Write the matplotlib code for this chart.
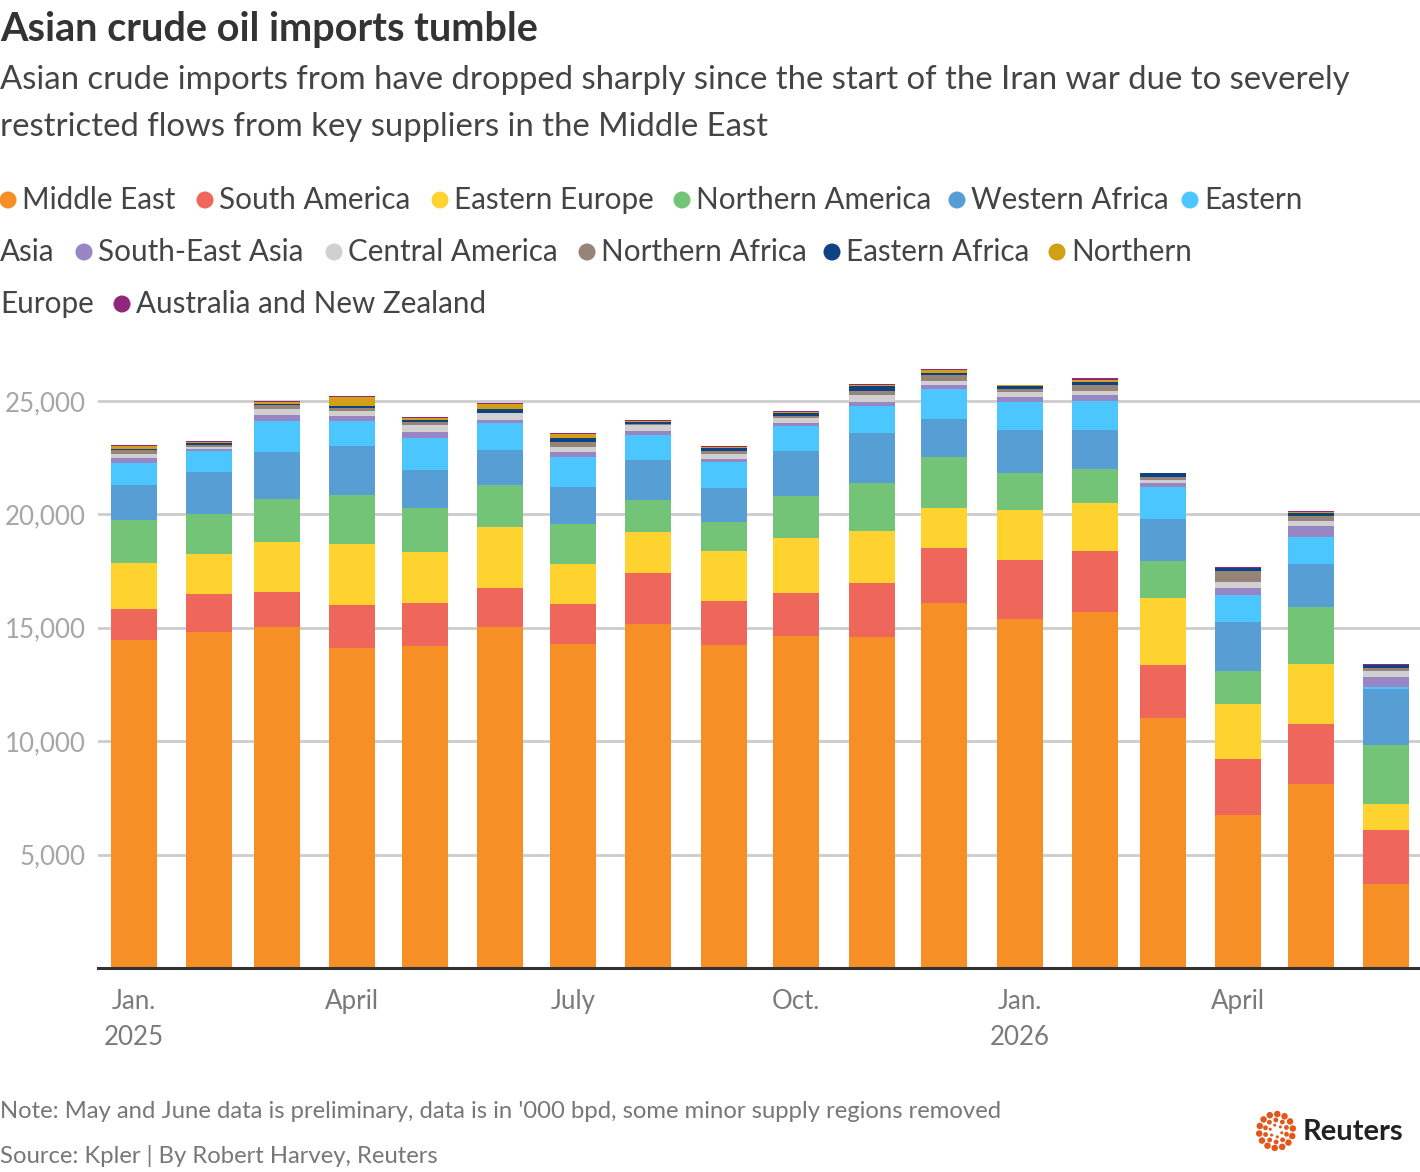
import numpy as np
import pandas as pd
import matplotlib
matplotlib.use("Agg")
import matplotlib.pyplot as plt

plt.rcParams['font.family'] = ['Lato', 'DejaVu Sans']

# monthly crude imports by supply region, '000 bpd
months = pd.date_range("2025-01-01", periods=18, freq="MS")

middle_east = [14460, 14810, 15040, 14110, 14200, 15040, 14290, 15170, 14240,
               14640, 14590, 16090, 15390, 15700, 11020, 6750, 8110, 3700]
south_america = [1370, 1680, 1540, 1890, 1890, 1710, 1760, 2250, 1940,
                 1890, 2390, 2430, 2600, 2690, 2340, 2470, 2650, 2380]
eastern_europe = [2030, 1760, 2200, 2690, 2250, 2690, 1760, 1800, 2210,
                  2430, 2290, 1760, 2200, 2110, 2950, 2420, 2640, 1150]
northern_america = [1890, 1770, 1900, 2170, 1940, 1860, 1770, 1410, 1280,
                    1850, 2110, 2250, 1640, 1500, 1640, 1460, 2520, 2600]
western_africa = [1550, 1850, 2070, 2160, 1680, 1540, 1630, 1770, 1490,
                  1990, 2210, 1680, 1890, 1720, 1850, 2160, 1890, 2470]
eastern_asia = [970, 930, 1370, 1100, 1410, 1190, 1320, 1100, 1150,
                1100, 1190, 1320, 1240, 1280, 1410, 1190, 1190, 90]
south_east_asia = [220, 100, 260, 220, 260, 130, 220, 180, 130,
                   130, 180, 180, 220, 260, 170, 300, 490, 440]
central_america = [170, 80, 270, 220, 310, 310, 220, 260, 220,
                   220, 300, 170, 220, 180, 140, 270, 220, 270]
northern_africa = [190, 80, 170, 130, 130, 0, 220, 50, 140,
                   90, 180, 270, 130, 270, 130, 480, 220, 130]
eastern_africa = [50, 90, 40, 90, 90, 180, 180, 80, 130,
                  130, 220, 80, 130, 130, 180, 140, 130, 130]
northern_europe = [130, 40, 100, 400, 90, 220, 180, 30, 40,
                   40, 50, 140, 30, 90, 0, 0, 40, 20]
australia_nz = [40, 50, 40, 40, 40, 40, 20, 60, 50,
                50, 40, 40, 20, 80, 0, 40, 50, 20]

regions = ["Middle East", "South America", "Eastern Europe", "Northern America",
           "Western Africa", "Eastern Asia", "South-East Asia", "Central America",
           "Northern Africa", "Eastern Africa", "Northern Europe",
           "Australia and New Zealand"]
series = [middle_east, south_america, eastern_europe, northern_america,
          western_africa, eastern_asia, south_east_asia, central_america,
          northern_africa, eastern_africa, northern_europe, australia_nz]
colors = ["#F58F26", "#EF665A", "#FFD32F", "#73C476", "#579ED4", "#4CC6FF",
          "#9786C3", "#D0D0D0", "#978377", "#0D4283", "#D1A017", "#93267A"]

tick_dates = pd.to_datetime(["2025-01-01", "2025-04-01", "2025-07-01",
                             "2025-10-01", "2026-01-01", "2026-04-01"])
tick_labels = ["Jan.\n2025", "April", "July", "Oct.", "Jan.\n2026", "April"]

W, H = 1420, 1172
fig = plt.figure(figsize=(W / 100, H / 100), dpi=100)

# main chart
ax = fig.add_axes([98 / W, 1 - 968 / H, 1 - 98 / W, (968 - 355.6) / H])
bottom = np.zeros(len(months))
for vals, col in zip(series, colors):
    ax.bar(months, vals, width=19, bottom=bottom, color=col, zorder=3)
    bottom += np.array(vals)

ax.set_ylim(0, 27000)
ax.set_xlim(months[0] - pd.Timedelta(days=14.8), months[0] + pd.Timedelta(days=530))
ax.set_yticks([5000, 10000, 15000, 20000, 25000])
ax.set_yticklabels([f"{v:,}" for v in [5000, 10000, 15000, 20000, 25000]])
ax.yaxis.grid(True, color="#cccccc", linewidth=2, zorder=0)
ax.tick_params(axis="y", length=0, pad=9, labelsize=18.6, labelcolor="#a6a6a6")
ax.set_xticks(tick_dates)
ax.set_xticklabels(tick_labels, linespacing=1.55)
ax.tick_params(axis="x", length=0, pad=15, labelsize=18.6, labelcolor="#7a7a7a")
for s in ["top", "right", "left"]:
    ax.spines[s].set_visible(False)
ax.spines["bottom"].set_color("#333333")
ax.spines["bottom"].set_linewidth(2.2)
ax.spines["bottom"].set_zorder(5)

# overlay in pixel coordinates for titles, legend and footer
ov = fig.add_axes([0, 0, 1, 1], facecolor="none")
ov.set_xlim(0, W)
ov.set_ylim(H, 0)
ov.axis("off")

ov.text(0, 30, "Asian crude oil imports tumble", fontsize=28.5, fontweight="bold",
        color="#333333", va="center", ha="left")
ov.text(0, 80, "Asian crude imports from have dropped sharply since the start of the Iran war due to severely",
        fontsize=23.7, color="#444444", va="center", ha="left")
ov.text(0, 127, "restricted flows from key suppliers in the Middle East",
        fontsize=23.7, color="#444444", va="center", ha="left")

# legend wraps like the original
legend_items = [
    (8, 200, 0), (205, 200, 1), (440, 200, 2), (682, 200, 3), (957, 200, 4),
    (1190, 200, 5), (84, 252, 6), (334, 252, 7), (587, 252, 8), (832, 252, 9),
    (1057, 252, 10), (122, 304, 11),
]
legend_text = ["Middle East", "South America", "Eastern Europe", "Northern America",
               "Western Africa", "Eastern", "South-East Asia", "Central America",
               "Northern Africa", "Eastern Africa", "Northern",
               "Australia and New Zealand"]
for (x, y, i), lab in zip(legend_items, legend_text):
    ov.scatter([x], [y], s=150, color=colors[i], edgecolors="none")
    ov.text(x + 14, y, lab, fontsize=21.3, color="#444444", va="center", ha="left")
ov.text(0, 252, "Asia", fontsize=21.3, color="#444444", va="center", ha="left")
ov.text(0, 304, "Europe", fontsize=21.3, color="#444444", va="center", ha="left")

ov.text(0, 1112, "Note: May and June data is preliminary, data is in '000 bpd, some minor supply regions removed",
        fontsize=17.2, color="#777777", va="center", ha="left")
ov.text(0, 1156, "Source: Kpler | By Robert Harvey, Reuters",
        fontsize=17.2, color="#777777", va="center", ha="left")

# Reuters logo: rings of dots
cx, cy = 1276, 1131
for r, n, sz in [(17, 14, 22), (11, 10, 12), (6, 6, 5)]:
    ang = np.linspace(0, 2 * np.pi, n, endpoint=False) + 0.3
    ov.scatter(cx + r * np.cos(ang), cy + r * np.sin(ang), s=sz, color="#E4571B",
               edgecolors="none")
ov.text(1303, 1132, "Reuters", fontsize=21, fontweight="bold", color="#222222",
        va="center", ha="left")

fig.savefig("out.png", dpi=100)
